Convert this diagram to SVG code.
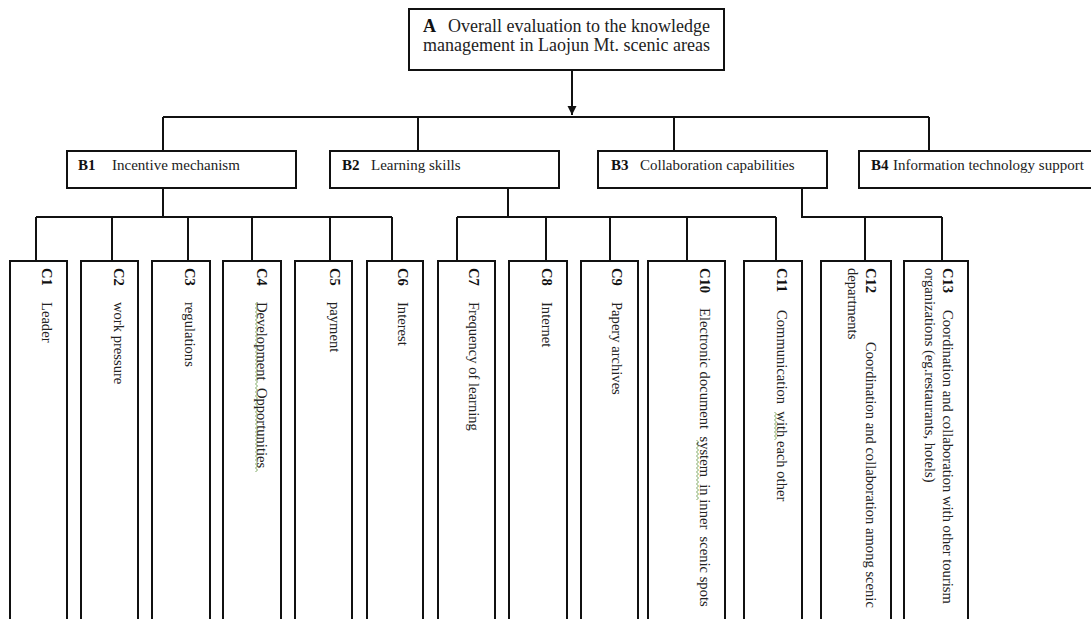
<svg xmlns="http://www.w3.org/2000/svg" width="1091" height="619" viewBox="0 0 1091 619">
  <style>
    .box { fill: #fff; stroke: #111; stroke-width: 2; }
    .con { fill: none; stroke: #111; stroke-width: 2; }
    text { font-family: "Liberation Serif", "Times New Roman", serif; fill: #222; white-space: pre; }
    .a { font-size: 18px; }
    .bt { font-size: 15px; }
    .ct { font-size: 14.6px; }
    .k { font-weight: bold; fill: #111; }
    .sq { fill: url(#wavy); }
  </style>
  <defs>
    <marker id="arr" markerUnits="userSpaceOnUse" markerWidth="9" markerHeight="11" refX="9" refY="4.5" orient="auto">
      <path d="M0,0 L9,4.5 L0,9 Z" fill="#111"/>
    </marker>
    <pattern id="wavy" patternUnits="userSpaceOnUse" width="3" height="4">
      <polyline points="0.5,0 2.5,2 0.5,4" fill="none" stroke="#6f9f4f" stroke-width="0.9"/>
    </pattern>
  </defs>
  <rect width="1091" height="619" fill="#fff"/>

  <g id="connectors">
    <path class="con" d="M572,70 V115" marker-end="url(#arr)"/>
    <path class="con" d="M163,117 H929 M163,117 V151 M418,117 V151 M674,117 V151 M929,117 V151"/>
    <path class="con" d="M163,188 V217 M36,217 H392 M36,217 V261 M112,217 V261 M188,217 V261 M252,217 V261 M330,217 V261 M392,217 V261"/>
    <path class="con" d="M508,188 V217 M457,217 H776 M457,217 V261 M546,217 V261 M610,217 V261 M687,217 V261 M776,217 V261"/>
    <path class="con" d="M802,188 V217 H942 M865,217 V261 M942,217 V261"/>
  </g>

  <g id="A">
    <rect class="box" x="409" y="9" width="315" height="61"/>
    <text class="a" y="32"><tspan class="k" x="423">A</tspan><tspan x="448">Overall evaluation to the knowledge</tspan></text>
    <text class="a" x="423" y="51">management in Laojun Mt. scenic areas</text>
  </g>

  <g id="B1">
    <rect class="box" x="67" y="151" width="229" height="37"/>
    <text class="bt" y="170"><tspan class="k" x="78">B1</tspan><tspan x="112">Incentive mechanism</tspan></text>
  </g>
  <g id="B2">
    <rect class="box" x="330" y="151" width="229" height="37"/>
    <text class="bt" y="170"><tspan class="k" x="342">B2</tspan><tspan x="371">Learning skills</tspan></text>
  </g>
  <g id="B3">
    <rect class="box" x="598" y="151" width="229" height="37"/>
    <text class="bt" y="170"><tspan class="k" x="611">B3</tspan><tspan x="640">Collaboration capabilities</tspan></text>
  </g>
  <g id="B4">
    <rect class="box" x="859" y="151" width="240" height="37"/>
    <text class="bt" y="170"><tspan class="k" x="871">B4</tspan><tspan x="893">Information technology support</tspan></text>
  </g>

  <g id="C1">
    <rect class="box" x="10" y="261" width="57" height="370"/>
    <text class="ct" transform="translate(42,0) rotate(90)"><tspan class="k" x="268">C1</tspan><tspan x="302">Leader</tspan></text>
  </g>
  <g id="C2">
    <rect class="box" x="81" y="261" width="57" height="370"/>
    <text class="ct" transform="translate(113.5,0) rotate(90)"><tspan class="k" x="268">C2</tspan><tspan x="302">work pressure</tspan></text>
  </g>
  <g id="C3">
    <rect class="box" x="152" y="261" width="58" height="370"/>
    <text class="ct" transform="translate(185,0) rotate(90)"><tspan class="k" x="268">C3</tspan><tspan x="302">regulations</tspan></text>
  </g>
  <g id="C4">
    <rect class="box" x="223" y="261" width="58" height="370"/>
    <rect class="sq" x="255" y="302" width="3" height="170"/>
    <text class="ct" transform="translate(257,0) rotate(90)"><tspan class="k" x="268">C4</tspan><tspan x="302">Development  Opportunities</tspan></text>
  </g>
  <g id="C5">
    <rect class="box" x="295" y="261" width="57" height="370"/>
    <text class="ct" transform="translate(329.5,0) rotate(90)"><tspan class="k" x="268">C5</tspan><tspan x="302">payment</tspan></text>
  </g>
  <g id="C6">
    <rect class="box" x="367" y="261" width="56" height="370"/>
    <text class="ct" transform="translate(398,0) rotate(90)"><tspan class="k" x="268">C6</tspan><tspan x="302">Interest</tspan></text>
  </g>
  <g id="C7">
    <rect class="box" x="438" y="261" width="57" height="370"/>
    <text class="ct" transform="translate(469,0) rotate(90)"><tspan class="k" x="268">C7</tspan><tspan x="302">Frequency of learning</tspan></text>
  </g>
  <g id="C8">
    <rect class="box" x="509" y="261" width="58" height="370"/>
    <text class="ct" transform="translate(542,0) rotate(90)"><tspan class="k" x="268">C8</tspan><tspan x="302">Internet</tspan></text>
  </g>
  <g id="C9">
    <rect class="box" x="581" y="261" width="57" height="370"/>
    <text class="ct" transform="translate(612,0) rotate(90)"><tspan class="k" x="268">C9</tspan><tspan x="302">Papery archives</tspan></text>
  </g>
  <g id="C10">
    <rect class="box" x="648" y="261" width="77" height="370"/>
    <rect class="sq" x="696" y="440" width="3" height="60"/>
    <text class="ct" transform="translate(700,0) rotate(90)"><tspan class="k" x="268">C10</tspan><tspan x="308">Electronic document  system  in inner  scenic spots</tspan></text>
  </g>
  <g id="C11">
    <rect class="box" x="744" y="261" width="58" height="370"/>
    <rect class="sq" x="774" y="412" width="3" height="28"/>
    <text class="ct" transform="translate(777,0) rotate(90)"><tspan class="k" x="268">C11</tspan><tspan x="310">Communication  with each other</tspan></text>
  </g>
  <g id="C12">
    <rect class="box" x="821" y="261" width="70" height="370"/>
    <text class="ct" transform="translate(866,0) rotate(90)"><tspan class="k" x="268">C12</tspan><tspan x="342">Coordination and collaboration among scenic</tspan><tspan x="268" dy="18">departments</tspan></text>
  </g>
  <g id="C13">
    <rect class="box" x="904" y="261" width="64" height="370"/>
    <text class="ct" transform="translate(942.5,0) rotate(90)"><tspan class="k" x="268">C13</tspan><tspan x="310">Coordination and collaboration with other tourism</tspan><tspan x="268" dy="18">organizations (eg.restaurants, hotels)</tspan></text>
  </g>
</svg>
